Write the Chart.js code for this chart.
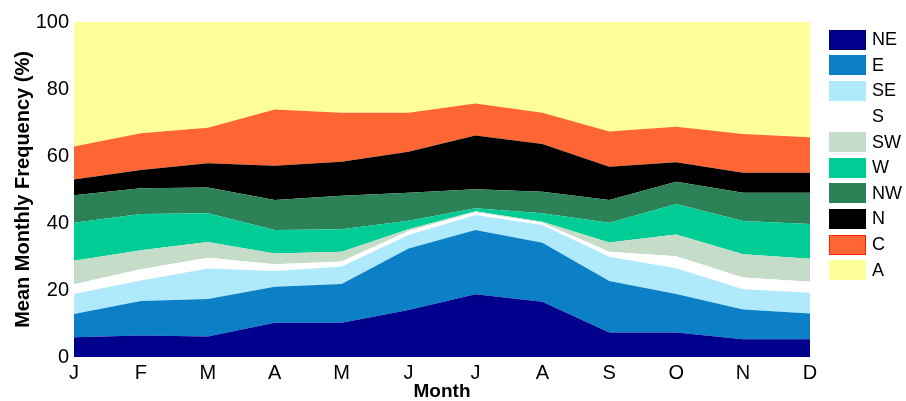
<!DOCTYPE html>
<html><head><meta charset="utf-8">
<script src="https://cdn.jsdelivr.net/npm/chart.js@4.4.1/dist/chart.umd.min.js"></script>
<style>
html,body{margin:0;padding:0;background:#fff;}
#wrap{position:relative;width:906px;height:401px;overflow:hidden;}
#legend{position:absolute;left:829px;top:27px;font-family:"Liberation Sans",Arial,Helvetica,sans-serif;font-size:18px;color:#000;}
.item{display:flex;align-items:center;height:25.6px;}
.box{width:37px;height:20px;box-sizing:border-box;margin-right:6px;}
</style></head><body>
<div id="wrap"><canvas id="c" width="906" height="401"></canvas><div id="legend"></div></div>
<script>
const months = ['J','F','M','A','M','J','J','A','S','O','N','D'];
const yTicks = [0, 20, 40, 60, 80, 100];
const seriesNames = ['NE','E','SE','S','SW','W','NW','N','C','A'];
const NE = [5.9, 6.4, 6.1, 10.2, 10.2, 14.0, 18.7, 16.5, 7.3, 7.3, 5.3, 5.3];
const E  = [6.9, 10.3, 11.2, 10.8, 11.6, 18.4, 19.2, 17.6, 15.4, 11.5, 8.9, 7.7];
const SE = [6.0, 6.1, 9.1, 4.7, 5.2, 4.0, 4.5, 5.3, 7.2, 7.7, 6.0, 6.2];
const S  = [2.9, 3.4, 3.2, 2.0, 1.5, 1.2, 0.8, 0.7, 1.5, 3.6, 3.5, 3.3];
const SW = [7.0, 5.7, 4.7, 3.2, 2.9, 0.5, 0.3, 0.3, 2.8, 6.5, 7.0, 6.8];
const W  = [11.4, 10.8, 8.6, 7.0, 6.7, 2.6, 0.9, 2.5, 5.9, 9.1, 9.9, 10.4];
const NW = [8.2, 7.7, 7.7, 9.0, 10.0, 8.3, 5.7, 6.4, 6.8, 6.6, 8.4, 9.3];
const N  = [4.7, 5.4, 7.2, 10.2, 10.2, 12.3, 16.0, 14.3, 9.9, 5.8, 6.0, 6.0];
const C  = [9.8, 11.0, 10.6, 16.8, 14.6, 11.6, 9.6, 9.3, 10.5, 10.6, 11.6, 10.6];
const A  = [37.2, 33.2, 31.6, 26.1, 27.1, 27.1, 24.3, 27.1, 32.7, 31.3, 33.4, 34.4];
const seriesValues = [NE, E, SE, S, SW, W, NW, N, C, A];
const colors = ['#00008c','#0b80c6','#aee9fc','#ffffff','#c4dcc8','#00cc96','#2d8156','#000000','#ff6633','#ffff99'];
const borders = ['#000060','#0b80c6','#aee9fc','#ffffff','#c4dcc8','#00cc96','#2d8156','#000000','#ff2200','#ffff99'];

const FONT = '"Liberation Sans", Arial, Helvetica, sans-serif';
const datasets = seriesNames.map((name, i) => ({
  label: name,
  data: seriesValues[i],
  backgroundColor: colors[i],
  borderColor: colors[i],
  borderWidth: 0,
  pointRadius: 0,
  tension: 0,
  fill: i === 0 ? 'origin' : '-1'
}));

new Chart(document.getElementById('c'), {
  type: 'line',
  data: { labels: months, datasets },
  options: {
    responsive: false,
    animation: false,
    layout: { padding: { top: 22, right: 96, left: 0, bottom: 0 } },
    plugins: { legend: { display: false }, tooltip: { enabled: false } },
    elements: { line: { borderWidth: 0 } },
    scales: {
      x: {
        stacked: true,
        offset: false,
        grid: { display: false, drawTicks: false },
        border: { display: false },
        ticks: { color: '#000', font: { family: FONT, size: 20 }, padding: 4, maxRotation: 0, autoSkip: false },
        title: { display: true, text: 'Month', color: '#000', font: { family: FONT, size: 19, weight: 'bold', lineHeight: 1 }, padding: { top: 0, bottom: 0 } },
        afterFit: s => { s.height = 44; }
      },
      y: {
        stacked: true,
        min: 0, max: 100,
        afterBuildTicks: s => { s.ticks = yTicks.map(v => ({ value: v })); },
        grid: { display: false, drawTicks: false },
        border: { display: false },
        ticks: { color: '#000', font: { family: FONT, size: 20 }, padding: 5 },
        title: { display: true, text: 'Mean Monthly Frequency (%)', color: '#000', font: { family: FONT, size: 20, weight: 'bold', lineHeight: 1 }, padding: { top: 13, bottom: 0 } },
        afterFit: s => { s.width = 74; }
      }
    }
  }
});

const lg = document.getElementById('legend');
seriesNames.forEach((name, i) => {
  const it = document.createElement('div'); it.className = 'item';
  const b = document.createElement('div'); b.className = 'box';
  b.style.background = colors[i];
  if (name !== 'S') b.style.border = '1px solid ' + borders[i];
  const t = document.createElement('span'); t.textContent = name;
  it.appendChild(b); it.appendChild(t); lg.appendChild(it);
});
</script>
</body></html>
